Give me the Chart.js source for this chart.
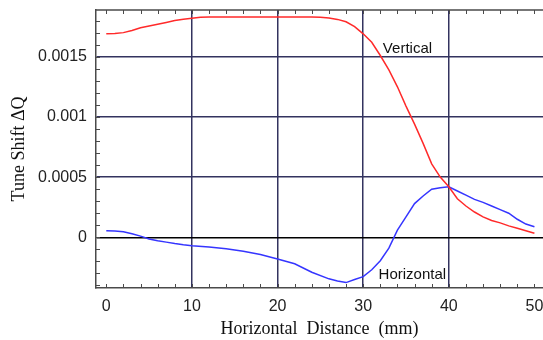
<!DOCTYPE html>
<html>
<head>
<meta charset="utf-8">
<script src="https://cdn.jsdelivr.net/npm/chart.js@4"></script>
<style>
  html, body { margin: 0; padding: 0; background: #fff; }
  #wrap { width: 543px; height: 340px; }
</style>
</head>
<body>
<div id="wrap"><canvas id="tune-chart"></canvas></div>
<script>
//datos
const verticalX = [0, 1, 2, 3, 4, 5, 6, 7, 8, 9, 10, 11, 12, 14, 16, 18, 20, 22, 24, 25, 26, 27, 28, 29, 30,
  31, 32, 33, 34, 35, 36, 37, 38, 39, 40, 41, 42, 43, 44, 45, 46, 47, 48, 49, 50];
const verticalY = [0.00169, 0.001692, 0.0017, 0.001718, 0.00174, 0.001755, 0.00177, 0.001785, 0.0018, 0.001812,
  0.00182, 0.001828, 0.00183, 0.00183, 0.00183, 0.00183, 0.00183, 0.00183, 0.00183, 0.001828, 0.001822,
  0.00181, 0.00179, 0.00175, 0.00169, 0.00162, 0.00151, 0.00139, 0.00125, 0.00109, 0.00094, 0.00078,
  0.00061, 0.0005, 0.00042, 0.00032, 0.00026, 0.00021, 0.00017, 0.00014, 0.00012, 0.000095, 0.000075,
  0.000055, 0.000033];

const horizontalX = [0, 1, 2, 3, 4, 5, 6, 7, 8, 9, 10, 12, 14, 16, 18, 20, 22, 24, 26, 27, 28, 29, 30,
  31, 32, 33, 34, 35, 36, 37, 38, 39, 40, 41, 42, 43, 44, 45, 46, 47, 48, 49, 50];
const horizontalY = [0.000055, 0.000052, 0.000047, 0.00003, 0.00001, -0.000014, -0.000028, -0.00004,
  -0.000052, -0.000062, -0.00007, -0.00008, -0.000095, -0.000115, -0.000142, -0.00018, -0.00022,
  -0.00029, -0.000345, -0.000362, -0.000376, -0.00035, -0.000327, -0.00027, -0.000195, -0.00009,
  0.00006, 0.00017, 0.00028, 0.000343, 0.0004, 0.000412, 0.00042, 0.000385, 0.00035, 0.000315,
  0.00029, 0.00026, 0.00023, 0.0002, 0.00015, 0.00011, 0.000088];

//ticks
const xTicks = [0, 10, 20, 30, 40, 50];
const yTicks = [0, 0.0005, 0.001, 0.0015];
const yTickLabels = ['0', '0.0005', '0.001', '0.0015'];

//etiquetas de curvas
const curveLabels = [
  { text: 'Vertical', x: 32.3, y: 0.001528 },
  { text: 'Horizontal', x: 31.8, y: -0.000349 }
];

const gridColor = '#33335f';
const axisColor = '#4a4a4a';

function toPoints(xs, ys) {
  return xs.map((x, i) => ({ x: x, y: ys[i] }));
}

// marco superior, ticks menores y etiquetas
const framePlugin = {
  id: 'frame',
  afterDraw(chart) {
    const ctx = chart.ctx;
    const area = chart.chartArea;
    const sx = chart.scales.x;
    const sy = chart.scales.y;
    ctx.save();
    ctx.strokeStyle = axisColor;
    ctx.lineWidth = 1.5;
    ctx.beginPath();
    ctx.moveTo(area.left, area.top);
    ctx.lineTo(area.right, area.top);
    ctx.stroke();

    ctx.lineWidth = 1;
    ctx.beginPath();
    for (let v = 0; v <= 50; v += 2) {
      const px = Math.round(sx.getPixelForValue(v)) + 0.5;
      ctx.moveTo(px, area.bottom);
      ctx.lineTo(px, area.bottom - 4);
      ctx.moveTo(px, area.top);
      ctx.lineTo(px, area.top + 4);
    }
    for (let k = -4; k <= 18; k++) {
      const py = Math.round(sy.getPixelForValue(k * 0.0001)) + 0.5;
      ctx.moveTo(area.left, py);
      ctx.lineTo(area.left + 4, py);
    }
    ctx.stroke();

    ctx.fillStyle = '#111';
    ctx.font = '15px "Liberation Sans", Arial, sans-serif';
    ctx.textAlign = 'left';
    ctx.textBaseline = 'alphabetic';
    for (let lab of curveLabels) {
      ctx.fillText(lab.text, sx.getPixelForValue(lab.x), sy.getPixelForValue(lab.y));
    }
    ctx.restore();
  }
};

let ctx1 = document.getElementById('tune-chart').getContext('2d');
let myChart1 = new Chart(ctx1, {
  type: 'line',
  data: {
    datasets: [{
      label: 'Vertical',
      data: toPoints(verticalX, verticalY),
      borderColor: '#ff2a2a',
      borderWidth: 1.5,
      pointRadius: 0,
      tension: 0
    }, {
      label: 'Horizontal',
      data: toPoints(horizontalX, horizontalY),
      borderColor: '#3535ff',
      borderWidth: 1.5,
      pointRadius: 0,
      tension: 0
    }]
  },
  options: {
    responsive: true,
    maintainAspectRatio: false,
    animation: false,
    layout: { padding: { top: 10, right: 0, left: 0, bottom: 0 } },
    plugins: {
      legend: { display: false },
      tooltip: { enabled: false }
    },
    scales: {
      x: {
        type: 'linear',
        min: -1.2,
        max: 51,
        afterBuildTicks: s => { s.ticks = xTicks.map(v => ({ value: v })); },
        afterFit: s => { s.height = 52; s.paddingLeft = 0; s.paddingRight = 0; },
        ticks: {
          autoSkip: false,
          maxRotation: 0,
          padding: 9,
          color: '#222',
          font: { family: '"Liberation Sans", Arial, sans-serif', size: 16 }
        },
        grid: {
          drawTicks: false,
          lineWidth: 1.5,
          color: c => (c.tick && (c.tick.value === 0 || c.tick.value === 50)) ? 'rgba(0,0,0,0)' : gridColor
        },
        border: { display: true, color: axisColor, width: 1.5 },
        title: {
          display: true,
          text: 'Horizontal  Distance  (mm)',
          color: '#111',
          padding: { top: 0, bottom: 0 },
          font: { family: '"Liberation Serif", "Times New Roman", serif', size: 18 }
        }
      },
      y: {
        type: 'linear',
        min: -0.000421,
        max: 0.001888,
        afterBuildTicks: s => { s.ticks = yTicks.map(v => ({ value: v })); },
        afterFit: s => { s.width = 96; s.paddingTop = 0; s.paddingBottom = 0; },
        ticks: {
          autoSkip: false,
          padding: 9,
          color: '#222',
          font: { family: '"Liberation Sans", Arial, sans-serif', size: 16 },
          callback: v => {
            const i = yTicks.indexOf(v);
            return i >= 0 ? yTickLabels[i] : '';
          }
        },
        grid: {
          drawTicks: false,
          lineWidth: 1.5,
          color: c => (c.tick && c.tick.value === 0) ? '#000' : gridColor
        },
        border: { display: true, color: axisColor, width: 1.5 },
        title: {
          display: true,
          text: 'Tune Shift ΔQ',
          color: '#111',
          padding: { top: 8, bottom: 0 },
          font: { family: '"Liberation Serif", "Times New Roman", serif', size: 18 }
        }
      }
    }
  },
  plugins: [framePlugin]
});
</script>
</body>
</html>
